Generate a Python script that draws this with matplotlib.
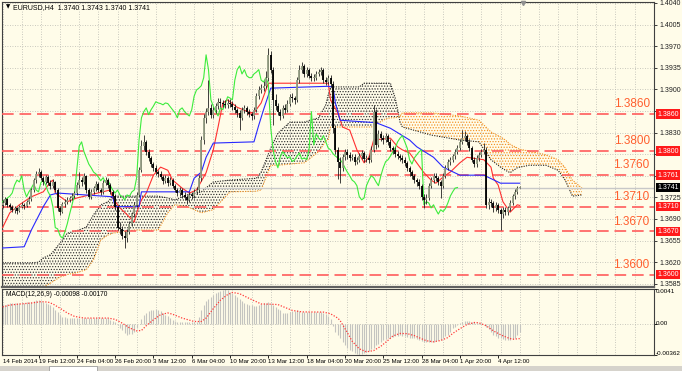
import matplotlib
matplotlib.use('Agg')
import matplotlib.pyplot as plt
import matplotlib.transforms as mtransforms
from matplotlib.patches import Rectangle
import numpy as np

plt.rcParams['font.family'] = ['Liberation Sans', 'DejaVu Sans']
plt.rcParams['hatch.linewidth'] = 0.55

BG = '#fffce9'
BASE = 1.3700   # all price lists below are pips above this

# EURUSD H4 candles, bar 1 .. 217 (open = previous close)
first_open = 12
close = [16, 22, 13, 10, 5, 8, 3, 10, 13, 11,
         18, 22, 37, 53, 63, 66, 57, 50, 58, 49,
         44, 50, 37, 8, 2, 15, 18, 21, 24, 27,
         32, 45, 53, 50, 60, 37, 26, 34, 40, 47,
         37, 34, 49, 53, 45, 34, 27, 10, -24, -26,
         -37, -41, -31, -18, -2, 13, 29, 70, 108, 115,
         99, 89, 79, 73, 66, 63, 58, 52, 57, 49,
         53, 44, 37, 32, 37, 29, 26, 21, 29, 27,
         34, 37, 57, 118, 154, 164, 170, 159, 167, 173,
         180, 178, 177, 175, 178, 177, 172, 167, 162, 154,
         167, 170, 164, 160, 157, 167, 189, 199, 202, 206,
         219, 256, 232, 183, 173, 164, 157, 170, 167, 177,
         188, 186, 183, 215, 232, 238, 225, 232, 222, 219,
         219, 225, 228, 232, 215, 212, 219, 209, 138, 102,
         83, 73, 91, 99, 94, 89, 91, 83, 86, 92,
         97, 87, 89, 86, 102, 164, 110, 128, 121, 118,
         125, 115, 105, 102, 96, 92, 89, 86, 81, 73,
         66, 60, 53, 50, 44, 26, 21, 24, 44, 53,
         60, 57, 50, 44, 60, 73, 83, 86, 92, 99,
         105, 115, 121, 125, 115, 105, 86, 79, 89, 94,
         99, 102, 13, 18, 16, 8, 13, 5, -2, 5,
         2, 7, 16, 27, 34, 40, 41]
high = [20, 26, 24, 16, 12, 11, 10, 13, 17, 16,
        21, 27, 40, 57, 68, 72, 69, 60, 62, 61,
        53, 55, 52, 40, 11, 18, 22, 25, 28, 32,
        36, 50, 66, 58, 64, 62, 40, 38, 44, 52,
        50, 41, 53, 58, 56, 48, 37, 30, 12, -15,
        -22, -30, -27, -14, 2, 17, 33, 74, 118, 126,
        118, 103, 92, 83, 77, 70, 67, 61, 62, 60,
        58, 56, 47, 41, 42, 40, 33, 29, 33, 33,
        38, 42, 62, 124, 160, 170, 215, 176, 172, 178,
        186, 186, 183, 182, 184, 184, 181, 176, 170, 166,
        171, 175, 173, 168, 164, 172, 194, 205, 208, 213,
        230, 267, 262, 236, 192, 178, 168, 175, 176, 182,
        193, 194, 190, 220, 240, 244, 241, 236, 235, 227,
        225, 230, 233, 237, 235, 220, 224, 223, 214, 142,
        106, 90, 96, 104, 103, 99, 96, 95, 91, 97,
        102, 100, 94, 93, 108, 175, 168, 134, 132, 126,
        130, 128, 119, 109, 106, 100, 96, 93, 90, 84,
        76, 70, 63, 57, 54, 47, 30, 30, 48, 58,
        64, 64, 60, 53, 64, 77, 87, 91, 96, 104,
        110, 120, 134, 132, 128, 119, 108, 90, 93, 98,
        104, 113, 107, 24, 22, 19, 17, 16, 8, 9,
        10, 11, 20, 31, 38, 44, 43]
low = [8, 12, 9, 5, 1, 0, -2, 1, 7, 6,
       9, 15, 19, 34, 49, 58, 53, 45, 46, 45,
       39, 40, 33, 3, -4, 0, 10, 14, 17, 20,
       24, 29, 40, 44, 46, 32, 22, 22, 30, 36,
       33, 29, 31, 45, 41, 30, 22, 5, -28, -34,
       -42, -57, -47, -35, -21, -6, 9, 25, 66, 102,
       94, 84, 74, 68, 61, 58, 54, 47, 48, 44,
       45, 40, 33, 27, 28, 24, 21, 14, 17, 22,
       24, 30, 33, 52, 112, 146, 158, 153, 154, 162,
       168, 172, 171, 170, 170, 172, 167, 162, 156, 134,
       150, 162, 159, 155, 150, 152, 163, 184, 194, 197,
       202, 214, 226, 142, 166, 158, 150, 153, 162, 163,
       173, 180, 177, 180, 210, 226, 220, 220, 218, 213,
       213, 215, 221, 223, 210, 207, 208, 204, 130, 95,
       55, 48, 68, 86, 88, 84, 85, 78, 79, 82,
       88, 83, 82, 80, 82, 98, 104, 106, 116, 112,
       114, 110, 100, 96, 91, 87, 84, 80, 76, 68,
       60, 55, 48, 44, 38, 20, 8, 15, 20, 40,
       49, 52, 45, 24, 40, 56, 69, 78, 82, 88,
       95, 101, 111, 116, 110, 100, 82, 74, 75, 84,
       90, 95, 8, 6, 9, 2, 3, 0, -28, -8,
       -4, -3, 3, 12, 23, 30, 40]

# Ichimoku lines (bar, pips)
tenkan_bar = [1, 4, 8, 13, 18, 21, 22, 23, 28, 32, 46, 47, 50, 53, 56, 57, 59, 61, 64, 67,
              70, 72, 76, 79, 82, 86, 89, 91, 93, 95, 99, 104, 106, 109, 112, 137, 138, 141, 143, 146,
              149, 152, 154, 156, 163, 166, 168, 171, 174, 177, 180, 182, 185, 188, 192, 195, 202, 205, 206, 208,
              210, 213, 216, 217]
tenkan = [-24, 0, 13, 26, 34, 50, 53, 32, 18, 24, 37, 24, 8, -3, -15, 0, 21, 32, 61, 74,
          69, 53, 40, 32, 37, 65, 102, 139, 178, 183, 171, 163, 162, 178, 210, 210, 183, 162, 139, 134,
          102, 81, 90, 118, 121, 107, 102, 97, 81, 65, 53, 48, 58, 66, 81, 90, 86, 74, 56, 45,
          18, 1, 13, 12]
kijun_bar = [1, 10, 13, 18, 21, 24, 47, 48, 58, 59, 79, 81, 84, 86, 89, 106, 108, 110, 113, 137,
             139, 140, 142, 157, 163, 171, 174, 181, 185, 192, 202, 209, 217]
kijun = [-57, -55, -28, 10, 29, 32, 26, 10, 10, 34, 34, 56, 66, 90, 113, 115, 142, 167, 202, 205,
         204, 178, 150, 146, 137, 118, 107, 90, 74, 61, 61, 48, 48]

# cloud, shifted 26 bars ahead
span_bar = [1, 13, 16, 18, 21, 25, 28, 32, 36, 39, 42, 45, 47, 56, 66, 70, 73, 78, 84, 89,
            96, 107, 109, 113, 116, 121, 127, 133, 136, 137, 138, 150, 152, 155, 161, 163, 165, 166, 167, 168,
            180, 192, 200, 205, 209, 211, 213, 216, 217, 221, 228, 233, 236, 239, 243]
span_a = [-81, -81, -80, -73, -68, -49, -33, -29, -23, -3, 13, 18, 27, 27, 27, 24, 21, 29, 34, 50,
          53, 56, 66, 105, 129, 147, 147, 154, 175, 191, 204, 204, 210, 210, 210, 210, 186, 168, 147, 139,
          126, 118, 115, 86, 74, 69, 65, 73, 74, 77, 77, 69, 53, 27, 29]
span_b = [-141, -133, -125, -120, -114, -104, -100, -97, -92, -76, -44, -36, -33, -28, -28, 0, 13, 10, 0, 5,
          34, 35, 37, 77, 77, 79, 81, 99, 116, 118, 139, 139, 139, 139, 152, 154, 154, 155, 157, 162,
          162, 157, 150, 131, 123, 118, 111, 105, 103, 100, 94, 86, 73, 53, 40]

# MACD(12,26,9), units of 1e-5
macd = [220, 228, 236, 244, 246, 246, 246, 246, 247, 250,
        253, 256, 260, 268, 276, 280, 270, 258, 245, 232,
        222, 195, 165, 138, 110, 88, 78, 74, 71, 70,
        72, 71, 69, 70, 72, 73, 71, 70, 69, 68,
        70, 71, 70, 70, 66, 50, 38, 24, -15, -42,
        -70, -100, -126, -122, -112, -90, -45, -5, 60, 110,
        135, 155, 165, 170, 174, 170, 150, 132, 110, 90,
        72, 52, 35, 25, 23, 22, 22, 20, 22, 23,
        24, 28, 80, 165, 225, 265, 295, 320, 345, 365,
        378, 390, 400, 405, 395, 378, 358, 338, 318, 292,
        268, 250, 238, 226, 218, 214, 211, 220, 236, 246,
        250, 255, 252, 225, 200, 180, 160, 135, 130, 134,
        140, 148, 156, 164, 152, 142, 140, 141, 139, 140,
        142, 140, 138, 140, 135, 120, 95, 60, -20, -94,
        -130, -162, -205, -245, -281, -305, -320, -335, -350, -360,
        -355, -340, -330, -312, -295, -275, -250, -228, -205, -185,
        -170, -162, -158, -152, -142, -135, -129, -138, -145, -152,
        -158, -162, -168, -178, -185, -195, -205, -210, -211, -211,
        -208, -200, -192, -185, -165, -145, -125, -90, -52, -30,
        -12, 10, 22, 30, 35, 30, 25, 22, 18, 14,
        10, -5, -35, -60, -90, -125, -145, -158, -166, -176,
        -184, -187, -187, -180, -162, -128, -98]
signal_bar = [1, 4, 8, 13, 17, 20, 22, 25, 28, 31, 35, 39, 45, 48, 51, 54, 57, 59, 61, 64,
              67, 70, 72, 76, 81, 84, 86, 89, 92, 95, 97, 100, 104, 109, 113, 116, 118, 122, 126, 135,
              138, 141, 142, 145, 147, 150, 153, 156, 159, 162, 164, 167, 170, 173, 175, 178, 181, 184, 187, 189,
              192, 195, 198, 200, 203, 206, 209, 212, 214, 217]
signal = [200, 222, 234, 246, 262, 257, 235, 185, 130, 90, 70, 70, 70, 55, 10, -45, -80, -75, -20, 50,
          110, 130, 115, 70, 30, 30, 70, 180, 280, 345, 370, 355, 300, 235, 232, 228, 205, 160, 142, 140,
          120, 70, 40, -100, -200, -290, -325, -310, -260, -190, -140, -110, -112, -135, -160, -195, -208, -192, -158, -110,
          -55, -5, 18, 15, -20, -80, -125, -160, -178, -170]

# horizontal levels drawn on the chart
levels = [1.3860, 1.3800, 1.3761, 1.3710, 1.3670, 1.3600]
level_names = ['1.3860', '1.3800', '1.3760', '1.3710', '1.3670', '1.3600']
bid = 1.3741

price_ticks = [1.4040, 1.4005, 1.3970, 1.3935, 1.3900, 1.3865, 1.3830, 1.3795,
               1.3760, 1.3725, 1.3690, 1.3655, 1.3620, 1.3585]
price_tick_labels = ['1.4040', '1.4005', '1.3970', '1.3935', '1.3900', '', '1.3830', '',
                     '', '1.3725', '1.3690', '1.3655', '1.3620', '1.3585']
date_bars = [1, 16, 32, 48, 64, 80, 96, 112, 128, 144, 160, 176, 192, 208]
date_labels = ['14 Feb 2014', '19 Feb 12:00', '24 Feb 04:00', '26 Feb 20:00', '3 Mar 12:00',
               '6 Mar 04:00', '10 Mar 20:00', '13 Mar 12:00', '18 Mar 04:00', '20 Mar 20:00',
               '25 Mar 12:00', '28 Mar 04:00', '1 Apr 20:00', '4 Apr 12:00']


def px(p):
    return BASE + np.asarray(p, dtype=float) / 1e4


fig = plt.figure(figsize=(6.82, 3.71), dpi=100, facecolor=BG)
ax = fig.add_axes([2 / 682, 84 / 371, 652 / 682, 285 / 371], facecolor=BG)
ax2 = fig.add_axes([2 / 682, 16 / 371, 652 / 682, 66 / 371], facecolor=BG)

XMIN, XMAX = 0.75, 273.1
for a in (ax, ax2):
    a.set_xlim(XMIN, XMAX)
    for s in a.spines.values():
        s.set_color('#404040')
        s.set_linewidth(0.8)
    # dotted vertical grid every 8 bars
    for g in range(1, 273, 8):
        a.axvline(g, color='#b8b8b0', lw=0.6, ls=(0, (1, 2)), zorder=0.5)
ax.spines['bottom'].set_linewidth(1.6)
ax.spines['bottom'].set_color('#606060')

ax.set_ylim(1.35798, 1.40416)
for t in price_ticks:
    ax.axhline(t, color='#b8b8b0', lw=0.6, ls=(0, (1, 2)), zorder=0.5)

# cloud: dotted fill between the spans
sb = np.array(span_bar, dtype=float)
sa = px(span_a)
sbb = px(span_b)
ax.fill_between(sb, sa, sbb, where=sa >= sbb, interpolate=True, facecolor='none',
                edgecolor='#303030', hatch='.' * 6, linewidth=0, zorder=1)
ax.fill_between(sb, sa, sbb, where=sa < sbb, interpolate=True, facecolor='none',
                edgecolor='#f39020', hatch='.' * 6, linewidth=0, zorder=1)
ax.plot(sb, sa, color='#202020', lw=0.8, ls=(0, (1, 1.2)), zorder=2)
ax.plot(sb, sbb, color='#f39020', lw=0.8, ls=(0, (1, 1.2)), zorder=2)

# level lines and labels
blend = mtransforms.blended_transform_factory(ax.transAxes, ax.transData)
ax.axhline(bid, color='#c8c8c8', lw=1.0, zorder=2.5)
for lv, name in zip(levels, level_names):
    ax.axhline(lv, color='#ff5c5c', lw=1.2, ls=(0, (7, 3.5)), zorder=3)
    ax.text(0.9935, lv + 0.0006, name, transform=blend, ha='right', va='bottom',
            fontsize=8.5, color='#ff5f2e', zorder=7)
    ax.text(1.0048, lv, '%.4f' % lv, transform=blend, ha='left', va='center', fontsize=5,
            color='white', clip_on=False, zorder=8,
            bbox=dict(boxstyle='square,pad=0.18', fc='#ff1a1a', ec='none'))
ax.text(1.0048, bid, '%.4f' % bid, transform=blend, ha='left', va='center', fontsize=5,
        color='white', clip_on=False, zorder=8,
        bbox=dict(boxstyle='square,pad=0.18', fc='black', ec='none'))

# tenkan, kijun, chikou
ax.plot(tenkan_bar, px(tenkan), color='#ff3030', lw=0.8, zorder=4)
ax.plot(kijun_bar, px(kijun), color='#2828ff', lw=0.8, zorder=4)
bars = np.arange(1, len(close) + 1)
c = px(close)
ax.plot(bars - 26, c, color='#3cec3c', lw=0.8, zorder=4)

# candles
o = np.r_[px(first_open), c[:-1]]
h = px(high)
l = px(low)
up = c >= o
lo = np.minimum(o, c)
hi = np.maximum(np.maximum(o, c), lo + 0.00012)
ax.vlines(bars, l, h, color='#202020', lw=0.6, zorder=5)
ax.vlines(bars[up], lo[up], hi[up], color='#939c82', lw=1.3, zorder=6)
ax.vlines(bars[~up], lo[~up], hi[~up], color='black', lw=1.3, zorder=6)

ax.set_xticks([])
ax.yaxis.tick_right()
ax.set_yticks(price_ticks, price_tick_labels)
ax.tick_params(axis='y', length=2, width=0.6, pad=2, labelsize=5, colors='#202020')

ax.text(4 / 652, 1 - 5 / 285, '\u25bc', transform=ax.transAxes, fontsize=4,
        va='center', ha='left', family=['DejaVu Sans'])
ax.text(11 / 652, 1 - 6 / 285, 'EURUSD,H4  1.3740 1.3743 1.3740 1.3741',
        transform=ax.transAxes, fontsize=5, va='center', ha='left')
ax.plot([218.3], [1.4040], marker='v', ms=3, color='#909090', clip_on=False, zorder=9)

# MACD panel
ax2.set_ylim(-0.00362, 0.0041)
ax2.axhline(0, color='#b8b8b0', lw=0.6, ls=(0, (1, 2)), zorder=0.5)
ax2.vlines(bars, 0, np.array(macd) / 1e5, color='#c4c4c0', lw=0.8, zorder=2)
ax2.plot(signal_bar, np.array(signal) / 1e5, color='#ff3a3a', lw=0.9,
         ls=(0, (1, 1.3)), zorder=3)
ax2.text(4 / 652, 1 - 5 / 66, 'MACD(12,26,9) -0.00098 -0.00170', transform=ax2.transAxes,
         fontsize=4.8, va='center', ha='left')
ax2.yaxis.tick_right()
ax2.set_yticks([0.0041, 0.0, -0.00362], ['', '', ''])
ax2.tick_params(axis='y', length=2, width=0.6)
for yy, lab in [(0.965, '0.0041'), (0.47, '0.00'), (0.03, '-0.00362')]:
    ax2.text(1.003, yy, lab, transform=ax2.transAxes, fontsize=4.5, va='center', ha='left')

ax2.set_xticks(date_bars[1:], [''] * (len(date_bars) - 1))
ax2.tick_params(axis='x', length=2, width=0.6)
dblend = mtransforms.blended_transform_factory(ax2.transData, ax2.transAxes)
for b, lab in zip(date_bars, date_labels):
    ax2.text(b, -0.06, lab, transform=dblend, fontsize=4.4, va='top', ha='left')

# tab strip at the very bottom
fig.patches.append(Rectangle((0, 0), 1, 5 / 371, transform=fig.transFigure,
                             fc='#d6d3cc', ec='none', zorder=0))
fig.patches.append(Rectangle((49 / 682, 0), 48 / 682, 5 / 371, transform=fig.transFigure,
                             fc='white', ec='#909090', lw=0.5, zorder=1))

fig.savefig('out.png', dpi=100, facecolor=BG)
